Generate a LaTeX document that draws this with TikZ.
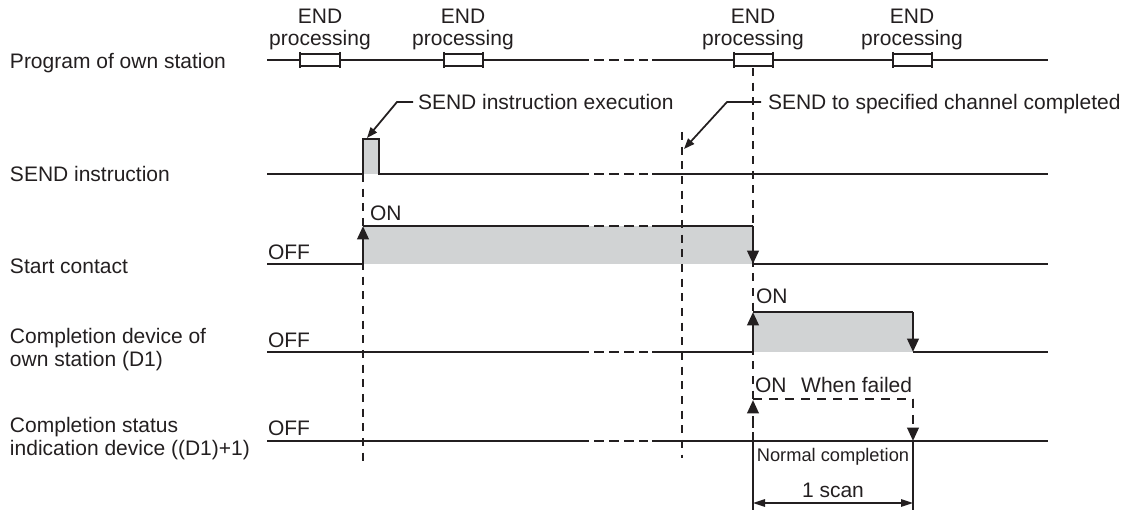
\documentclass[tikz,border=0pt]{standalone}
\usepackage{fontspec}
\setmainfont{Liberation Sans}
\usetikzlibrary{arrows.meta}
\definecolor{ink}{HTML}{231F20}
\definecolor{greyfill}{HTML}{D1D3D4}
\begin{document}
\begin{tikzpicture}[x=0.75pt,y=-0.75pt,
  font=\fontsize{15.75}{17.25}\selectfont,
  every node/.style={inner sep=0pt, outer sep=0pt, text=ink},
  sig/.style={draw=ink, line width=2.1pt},
  gapseg/.style={draw=ink, line width=2.1pt, dash pattern=on 7.5pt off 3.75pt},
  guide/.style={draw=ink, line width=1.6pt, dash pattern=on 6pt off 5pt},
  failsig/.style={draw=ink, line width=1.9pt, dash pattern=on 7pt off 5pt},
  lead/.style={draw=ink, line width=1.3pt},
  leadtip/.style={-{Triangle[length=8pt,width=6pt]}},
  uptip/.style={-{Triangle[length=10pt,width=8.5pt]}},
  dimtip/.style={{Triangle[length=9pt,width=5.5pt]}-{Triangle[length=9pt,width=5.5pt]}},
  endbox/.style={draw=ink, line width=1.3pt, fill=white},
  lbl/.style={anchor=base west},
  twoline/.style={anchor=west, align=left, font=\fontsize{15.75}{17.25}\selectfont},
  endlbl/.style={align=center, font=\fontsize{15.75}{16.5}\selectfont}
]
\path[use as bounding box] (0,0) rectangle (1136,513);

% ---------- left labels ----------
\node[lbl] (lProg) at (10,68.5) {Program of own station};
\node[lbl] (lSend) at (10,181.5) {SEND instruction};
\node[lbl] (lStart) at (10,273.5) {Start contact};
\node[twoline] (lComp) at (10,350) {Completion device of\\own station (D1)};
\node[twoline] (lStat) at (10,439) {Completion status\\indication device ((D1)+1)};

% ---------- gray fills ----------
\fill[greyfill] (363,139) rectangle (379,174);
\fill[greyfill] (363,226) rectangle (753,264);
\fill[greyfill] (753,312) rectangle (913,352);

% ---------- vertical guides ----------
\coordinate (g1a) at (363,174); \coordinate (g1b) at (363,463);
\coordinate (g2a) at (682,132); \coordinate (g2b) at (682,458);
\coordinate (g3a) at (753,68);  \coordinate (g3b) at (753,441);
\draw[guide] (g1a) -- (g1b);
\draw[guide] (g2a) -- (g2b);
\draw[guide] (g3a) -- (g3b);

% ---------- program of own station ----------
\draw[sig] (267,60) -- (589,60);
\draw[gapseg] (594,60) -- (648,60);
\draw[sig] (652,60) -- (1048,60);
\foreach \a/\b in {300/340,444/483,734/773,893/932}{
  \draw[endbox] (\a,54) rectangle (\b,66);
  \draw[sig] (\a,52) -- (\a,68);
  \draw[sig] (\b,52) -- (\b,68);
}
\node[endlbl] (e1) at (320,29) {END\\processing};
\node[endlbl] (e2) at (463,29) {END\\processing};
\node[endlbl] (e3) at (753,29) {END\\processing};
\node[endlbl] (e4) at (912,29) {END\\processing};

% ---------- SEND instruction ----------
\draw[sig] (267,174) -- (363,174) -- (363,139) -- (379,139) -- (379,174) -- (589,174);
\draw[gapseg] (594,174) -- (648,174);
\draw[sig] (652,174) -- (1048,174);

\node[lbl] (tExec) at (418,109.5) {SEND instruction execution};
\coordinate (pulseTop) at (367,138);
\draw[lead,leadtip] (413,102) -- (397,102) -- (pulseTop);

\node[lbl] (tDone) at (768,109.5) {SEND to specified channel completed};
\coordinate (doneMark) at (684,149);
\draw[lead,leadtip] (761,102) -- (727,102) -- (doneMark);

% ---------- Start contact ----------
\node[lbl] (off1) at (268,259.5) {OFF};
\node[lbl] (on1) at (370,220.5) {ON};
\draw[sig] (267,264) -- (363,264);
\draw[sig,uptip] (363,264) -- (363,226);
\draw[sig] (363,226) -- (589,226);
\draw[gapseg] (594,226) -- (648,226);
\draw[sig] (652,226) -- (753,226);
\draw[sig,uptip] (753,226) -- (753,264);
\draw[sig] (753,264) -- (1048,264);

% ---------- Completion device ----------
\node[lbl] (off2) at (268,347.5) {OFF};
\node[lbl] (on2) at (756,303.5) {ON};
\draw[sig] (267,352) -- (589,352);
\draw[gapseg] (594,352) -- (648,352);
\draw[sig] (652,352) -- (753,352);
\draw[sig,uptip] (753,352) -- (753,312);
\draw[sig] (753,312) -- (913,312);
\draw[sig,uptip] (913,312) -- (913,352);
\draw[sig] (913,352) -- (1048,352);

% ---------- Completion status ----------
\node[lbl] (off3) at (268,435.5) {OFF};
\node[lbl] (on3) at (755,392.5) {ON\hspace{0.7em}When failed};
\draw[sig] (267,441) -- (589,441);
\draw[gapseg] (594,441) -- (648,441);
\draw[sig] (652,441) -- (1048,441);
\draw[failsig,uptip] (753,441) -- (753,400);
\draw[failsig] (753,399) -- (913,399);
\draw[failsig,uptip] (913,399) -- (913,441);

% ---------- 1 scan dimension ----------
\coordinate (dL) at (753,441); \coordinate (dR) at (913,441);
\draw[lead] (dL) -- (753,510);
\draw[lead] (dR) -- (913,510);
\node (tNorm) at (833,457) {\fontsize{13.7}{15}\selectfont Normal completion};
\node[anchor=base] (tScan) at (833,497.5) {1 scan};
\draw[lead,dimtip] (753,503) -- (913,503);
\end{tikzpicture}
\end{document}
